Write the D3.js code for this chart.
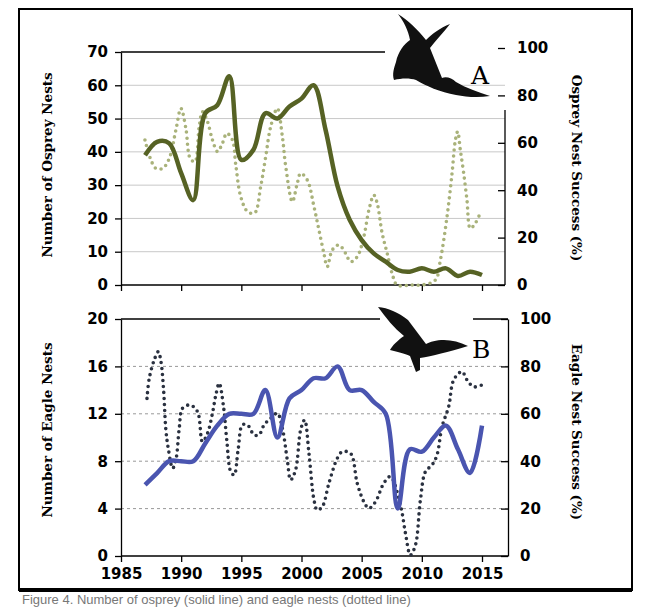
<!DOCTYPE html>
<html><head><meta charset="utf-8">
<script src="https://d3js.org/d3.v7.min.js"></script>
<style>body{margin:0;background:#fff}</style></head>
<body><svg id="c" width="650" height="607"></svg>
<script>
const years = d3.range(1987, 2016);
const ospreyNests = [39,43,42.6,33.6,25.5,51.6,54,62.7,37.6,40.6,51.6,50,53.6,56,60,46.6,29.6,19.6,13.5,9.5,7,4.5,4,5,4,5,2.7,4,3];
const ospreySuccessYears = [1986.99,1987.49,1987.9,1988.46,1989.01,1989.56,1989.98,1990.39,1990.75,1991.14,1991.5,1991.77,1992.19,1992.6,1993.02,1993.43,1993.79,1994.26,1994.54,1994.95,1995.51,1996.11,1996.61,1997.03,1997.44,1997.99,1998.41,1998.69,1999.24,1999.65,1999.93,2000.48,2001.04,2001.45,2001.86,2002.14,2002.56,2003.11,2003.66,2004.08,2004.63,2005.18,2005.6,2006.01,2006.29,2006.7,2007.12,2007.53,2007.95,2009.19,2010.02,2011.13,2011.54,2012.09,2012.51,2012.79,2012.98,2013.2,2013.48,2013.75,2014.03,2014.44,2014.86];
const ospreySuccess = [61.2,52.7,49.2,49.2,53.4,65.4,74.5,66.1,53.4,52,66.8,73.1,68.9,61.2,56.3,59.8,64,61.2,50.6,37.3,31,30.4,41.6,54.3,66.8,74.5,62.6,50,35.2,42.9,47.1,44.3,33,23.2,13.4,7.7,14.8,16.9,13.4,9.8,11.9,20.4,31.6,37.9,34.5,21.9,13.4,4.9,0,0,0,2.1,10.5,28.7,47.1,61.2,64.7,56.9,47.1,35.9,23.9,26,30.4];
const eagleNests = [6,7,8,8,8,9.5,11,12,12,12,14,10,13.3,14,15,15,16,14,14,13,12,4,9,8.8,10,11,9,7,11];
const eagleSuccessYears = [1987.16,1987.35,1987.76,1988.1,1988.32,1988.54,1988.73,1988.95,1989.29,1989.56,1989.84,1990.11,1990.75,1991.36,1991.77,1992.19,1992.6,1992.88,1993.16,1993.52,1993.79,1994.12,1994.4,1994.73,1995.09,1995.51,1996.06,1996.47,1996.89,1997.44,1997.99,1998.41,1998.82,1999.1,1999.51,1999.93,2000.26,2000.62,2001.04,2001.31,2001.73,2002.28,2002.97,2003.39,2004.08,2004.63,2005.18,2005.6,2006.15,2006.84,2007.39,2008.22,2008.64,2009.05,2009.47,2009.88,2010.3,2010.85,2011.26,2011.68,2012.23,2012.65,2013.34,2013.75,2014.31,2015];
const eagleSuccess = [66.5,75,82.7,86.2,82,70,53.2,44.7,37,40.5,53.9,62.3,63.7,60.9,48.2,51.8,60.2,67.9,72.9,63,48.9,35.6,34.2,44.7,55.3,55.3,51.1,51.1,55.3,58.1,60.2,53.9,40.5,32.1,36.3,53.2,57.4,43.3,23.6,19.4,20.8,30.7,41.2,44,43.3,30.7,22.9,20.1,22.9,30.7,33.5,21.5,9.6,0.4,4.6,23.6,35.6,38.4,42.6,54.6,63,74.3,77.8,74.3,71.4,72.2];
const xTicks = [1985,1990,1995,2000,2005,2010,2015];
const ospreyTicks = [0,10,20,30,40,50,60,70];
const eagleTicks = [0,4,8,12,16,20];
const pctTicks = [0,20,40,60,80,100];

const svg = d3.select("#c");
const x = d3.scaleLinear().domain([1985,2015]).range([121,482]);
const numF = "'DejaVu Sans', Verdana, sans-serif", serF = "'DejaVu Serif', serif";

svg.append("rect").attr("x",19).attr("y",9).attr("width",613).attr("height",581).attr("fill","none").attr("stroke","#000").attr("stroke-width",2);
svg.append("line").attr("x1",19).attr("x2",632).attr("y1",590).attr("y2",590).attr("stroke","#000").attr("stroke-width",4);
svg.append("text").attr("x",22).attr("y",604).attr("font-family","'Liberation Sans',sans-serif").attr("font-size",13).attr("fill","#777").text("Figure 4. Number of osprey (solid line) and eagle nests (dotted line)");

function panel(o){
  const yL = d3.scaleLinear().domain([0,o.lmax]).range([o.y0,o.y1]);
  const yR = d3.scaleLinear().domain([0,100]).range([o.y0,o.y1r]);
  const g = svg.append("g");
  g.selectAll(".gr").data(o.lticks.filter(v=>v>0&&v<o.lmax)).join("line")
    .attr("x1",x(1985)).attr("x2",o.rx).attr("y1",d=>yL(d)).attr("y2",d=>yL(d))
    .attr("stroke",o.gridC).attr("stroke-width",1).attr("stroke-dasharray",o.dash);
  g.append("line").attr("x1",x(1985)).attr("x2",o.topEnd).attr("y1",o.y1).attr("y2",o.y1).attr("stroke","#000").attr("stroke-width",1.3);
  if(o.topStart2) g.append("line").attr("x1",o.topStart2).attr("x2",o.rx).attr("y1",o.y1).attr("y2",o.y1).attr("stroke","#000").attr("stroke-width",1.3);
  const la = g.append("g").attr("transform",`translate(${x(1985)},0)`).call(d3.axisLeft(yL).tickValues(o.lticks).tickSize(6).tickSizeOuter(0));
  const ra = g.append("g").attr("transform",`translate(${o.rx},0)`).call(d3.axisRight(yR).tickValues(pctTicks).tickSize(-7).tickSizeOuter(0));
  if(o.rAxisStart) ra.select(".domain").attr("d",`M0,${o.rAxisStart}V${o.y0}`);
  const xa = g.append("g").attr("transform",`translate(0,${o.y0})`).call(d3.axisBottom(x).tickValues(xTicks).tickFormat(d3.format("d")).tickSize(6).tickSizeOuter(0));
  xa.select(".domain").attr("d",`M${x(1985)},0H${o.rx}`);
  [la,ra,xa].forEach(a=>{a.selectAll("path,line").attr("stroke","#000").attr("stroke-width",1.3);
    a.selectAll("text").attr("font-family",numF).attr("font-weight","bold").attr("font-size",15).attr("fill","#000");});
  la.selectAll("text").attr("x",-13);
  ra.selectAll("text").attr("x",12);
  if(!o.showX) xa.selectAll("text").remove(); else xa.selectAll("text").attr("y",12);
  g.append("text").attr("transform",`translate(52,${o.ly}) rotate(-90)`).attr("text-anchor","middle")
    .attr("font-family",serF).attr("font-weight","bold").attr("font-size",13.5).text(o.lt);
  g.append("text").attr("transform",`translate(572,${o.ry}) rotate(90)`).attr("text-anchor","middle")
    .attr("font-family",serF).attr("font-weight","bold").attr("font-size",13.5).text(o.rt);
  g.append("path").datum(o.sy.map((d,i)=>[d,o.sv[i]]))
    .attr("d",d3.line().x(d=>x(d[0])).y(d=>yR(d[1])).curve(d3.curveCatmullRom))
    .attr("fill","none").attr("stroke",o.dotC).attr("stroke-width",3.6).attr("stroke-linecap","round").attr("stroke-dasharray","0 6");
  g.append("path").datum(years.map((d,i)=>[d,o.nv[i]]))
    .attr("d",d3.line().x(d=>x(d[0])).y(d=>yL(d[1])).curve(d3.curveCatmullRom))
    .attr("fill","none").attr("stroke",o.solC).attr("stroke-width",4.5).attr("stroke-linejoin","round");
  g.append("text").attr("x",o.letX).attr("y",o.letY).attr("font-family",serF).attr("font-size",25).text(o.letter);
}
panel({lmax:70,lticks:ospreyTicks,y0:285,y1:52,y1r:48,rx:505,topEnd:385,rAxisStart:110,gridC:"#c8c8c8",dash:null,
  lt:"Number of Osprey Nests",ly:165,rt:"Osprey Nest Success (%)",ry:168,sy:ospreySuccessYears,sv:ospreySuccess,nv:ospreyNests,
  dotC:"#a9b27a",solC:"#566224",letter:"A",letX:471,letY:84,showX:false});
panel({lmax:20,lticks:eagleTicks,y0:556,y1:319,y1r:319,rx:508,topEnd:380,topStart2:473,gridC:"#999",dash:"3,3",
  lt:"Number of Eagle Nests",ly:430,rt:"Eagle Nest Success (%)",ry:432,sy:eagleSuccessYears,sv:eagleSuccess,nv:eagleNests,
  dotC:"#2a3140",solC:"#4a55b0",letter:"B",letX:472,letY:358,showX:true});

// bird silhouettes (decorative)
svg.append("path").attr("fill","#111").attr("d",
 "M398,14 C404,22 408,30 410,40 C404,44 398,52 396,62 C394,68 392,74 394,80 C402,78 410,78 416,80 C426,86 440,92 456,95 C466,97 478,98 490,96 C478,92 466,88 456,82 C452,78 446,76 442,78 C438,68 434,58 430,48 C436,40 444,32 450,24 C440,28 432,34 426,40 C418,30 408,20 398,14 Z");
svg.append("path").attr("fill","#111").attr("d",
 "M378,307 C386,318 394,328 404,336 C398,340 392,346 390,350 C398,352 406,354 410,356 L416,372 L420,370 L420,358 C432,356 448,352 468,346 C460,342 452,340 444,340 C436,340 430,342 426,344 C420,336 414,328 408,320 C398,312 388,308 378,307 Z");
</script></body></html>
